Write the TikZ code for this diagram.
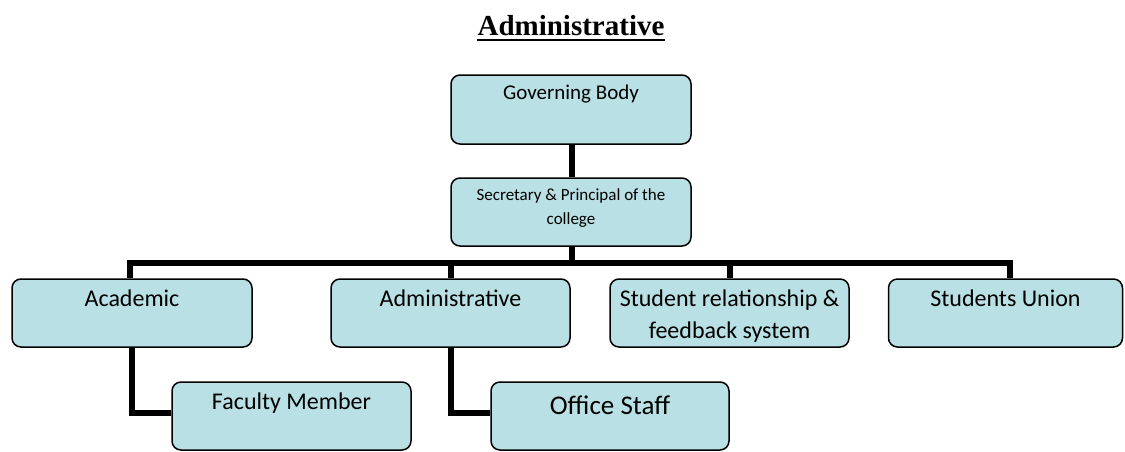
\documentclass[tikz,border=0pt]{standalone}
\usepackage{fontspec}
\setmainfont{Carlito}
\newfontfamily\titlefont{Liberation Serif}
\usetikzlibrary{backgrounds}
\definecolor{boxfill}{RGB}{185,224,228}
\tikzset{
  orgbox/.style={draw=black, line width=1.5pt, fill=boxfill, rounded corners=9pt,
    minimum width=240pt, minimum height=68pt, inner sep=0pt},
  conn/.style={line width=6pt, draw=black},
  lbl/.style={inner sep=0pt, align=center}
}
\begin{document}
\begin{tikzpicture}[x=1pt,y=1pt]
\useasboundingbox (0,0) rectangle (1125,-451);
% title
\node[inner sep=0pt, anchor=base, font=\titlefont\bfseries\fontsize{29}{34}\selectfont] (title) at (571,-35) {Administrative};
\draw[line width=2pt] ([yshift=-5pt]title.base west) -- ([yshift=-5pt]title.base east);
% boxes
\node[orgbox, minimum height=69pt] (gb) at (571,-109.5) {};
\node[orgbox] (sec) at (571,-212) {};
\node[orgbox] (acad) at (132,-313) {};
\node[orgbox, minimum width=239pt] (admin) at (450.5,-313) {};
\node[orgbox, minimum width=239pt] (rel) at (729.5,-313) {};
\node[orgbox, minimum width=234pt] (union) at (1005.5,-313) {};
\node[orgbox, minimum width=239pt] (fac) at (291.5,-416) {};
\node[orgbox, minimum width=238pt] (office) at (610,-416) {};
% labels
\node[lbl, anchor=base, font=\fontsize{21}{25}\selectfont] (gbt) at ([yshift=-25pt]gb.north) {Governing Body};
\node[lbl, anchor=north, font=\fontsize{17}{24}\selectfont] (sect) at ([yshift=-11pt]sec.north) {Secretary \& Principal of the\\college};
\node[lbl, anchor=base, font=\fontsize{24}{30}\selectfont] (acadt) at ([yshift=-28pt]acad.north) {Academic};
\node[lbl, anchor=base, font=\fontsize{24}{30}\selectfont] (admint) at ([yshift=-28pt]admin.north) {Administrative};
\node[lbl, anchor=north, font=\fontsize{24}{32}\selectfont] (relt) at ([yshift=-11pt]rel.north) {Student relationship \&\\feedback system};
\node[lbl, anchor=base, font=\fontsize{24}{30}\selectfont] (uniont) at ([yshift=-28pt]union.north) {Students Union};
\node[lbl, anchor=base, font=\fontsize{24}{30}\selectfont] (fact) at ([yshift=-28pt]fac.north) {Faculty Member};
\node[lbl, anchor=base, font=\fontsize{27}{32}\selectfont] (officet) at ([yshift=-33pt]office.north) {Office Staff};
% connectors
\coordinate (bus) at (572,-263);
\begin{pgfonlayer}{background}
\draw[conn] ([xshift=1pt]gb.south) -- ([xshift=1pt]sec.north);
\draw[conn] ([xshift=1pt]sec.south) -- ([xshift=1pt]sec.south |- bus);
\draw[conn] ([xshift=-2pt]acad.north) |- (bus) -| ([xshift=4.5pt]union.north);
\draw[conn] (admin.north) -- (admin.north |- bus);
\draw[conn] (rel.north) -- (rel.north |- bus);
\draw[conn] (acad.south) |- ([yshift=3pt]fac.west);
\draw[conn] (admin.south) |- ([yshift=3pt]office.west);
\end{pgfonlayer}
\end{tikzpicture}
\end{document}
